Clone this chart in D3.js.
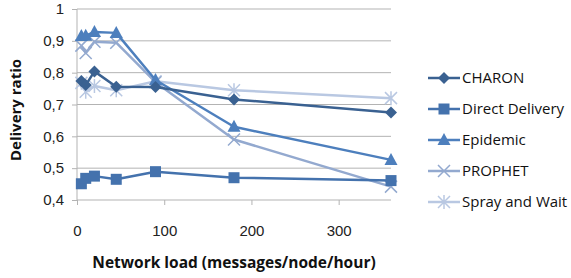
<!DOCTYPE html>
<html>
<head>
<meta charset="utf-8">
<script src="https://cdn.jsdelivr.net/npm/d3@7"></script>
<style>
  body { margin: 0; background: #fff; }
  svg { font-family: "Open Sans", "Liberation Sans", sans-serif; }
</style>
</head>
<body>
<svg width="571" height="278"></svg>
<script>
// network load (messages/node/hour)
const loads = [5, 10, 20, 45, 90, 180, 360];

const charon = [0.774, 0.761, 0.804, 0.756, 0.755, 0.716, 0.675];
const directDelivery = [0.451, 0.468, 0.475, 0.465, 0.489, 0.470, 0.461];
const epidemic = [0.915, 0.916, 0.928, 0.925, 0.777, 0.630, 0.526];
const prophet = [0.885, 0.862, 0.897, 0.894, 0.770, 0.590, 0.442];
const sprayWait = [0.768, 0.740, 0.758, 0.745, 0.773, 0.745, 0.720];

const seriesNames = ["CHARON", "Direct Delivery", "Epidemic", "PROPHET", "Spray and Wait"];
const yTicks = [0.4, 0.5, 0.6, 0.7, 0.8, 0.9, 1];
const xTicks = [0, 100, 200, 300];

const series = [
  { name: seriesNames[0], values: charon, color: "#3a6191", marker: "diamond" },
  { name: seriesNames[1], values: directDelivery, color: "#4472ad", marker: "square" },
  { name: seriesNames[2], values: epidemic, color: "#4d7fbd", marker: "triangle" },
  { name: seriesNames[3], values: prophet, color: "#93a9cf", marker: "x" },
  { name: seriesNames[4], values: sprayWait, color: "#b9c8e2", marker: "star" }
];

const svg = d3.select("svg");
const x = d3.scaleLinear().domain([0, 360]).range([77, 391]);
const y = d3.scaleLinear().domain([0.4, 1]).range([200, 9]);

// gridlines
svg.append("g").selectAll("line")
  .data(yTicks.slice(1))
  .enter().append("line")
  .attr("x1", 77).attr("x2", 391)
  .attr("y1", d => y(d)).attr("y2", d => y(d))
  .attr("stroke", "#b3b3b3").attr("stroke-width", 1);

// y axis
const yAxis = svg.append("g")
  .attr("transform", "translate(77,0)")
  .call(d3.axisLeft(y).tickValues(yTicks).tickSize(5).tickPadding(8)
    .tickFormat(d => d3.format(".1f")(d).replace(".", ",").replace(/^1,0$/, "1")));
yAxis.select(".domain").attr("stroke", "#b3b3b3").attr("d", "M0,9V200");
yAxis.selectAll(".tick line").attr("stroke", "#b3b3b3");
yAxis.selectAll("text").attr("font-size", 15).attr("fill", "#222");

// x axis
const xAxis = svg.append("g")
  .attr("transform", "translate(0,200)")
  .call(d3.axisBottom(x).tickValues(xTicks).tickSize(5).tickPadding(20));
xAxis.select(".domain").attr("stroke", "#b3b3b3").attr("d", "M77,0H391");
xAxis.selectAll(".tick line").attr("stroke", "#b3b3b3");
xAxis.selectAll("text").attr("font-size", 15).attr("fill", "#222");

// axis titles
svg.append("text")
  .attr("transform", "translate(21,110) rotate(-90)")
  .attr("text-anchor", "middle")
  .attr("font-size", 15).attr("font-weight", "bold").attr("fill", "#111")
  .text("Delivery ratio");
svg.append("text")
  .attr("x", 234).attr("y", 268)
  .attr("text-anchor", "middle")
  .attr("font-size", 15.5).attr("font-weight", "bold").attr("fill", "#111")
  .text("Network load (messages/node/hour)");

function drawMarker(g, type, color) {
  if (type === "diamond") {
    g.append("path").attr("d", "M0,-6L6,0L0,6L-6,0Z").attr("fill", color);
  } else if (type === "square") {
    g.append("rect").attr("x", -5.5).attr("y", -5.5).attr("width", 11).attr("height", 11).attr("fill", color);
  } else if (type === "triangle") {
    g.append("path").attr("d", "M0,-7L6.5,5L-6.5,5Z").attr("fill", color);
  } else if (type === "x") {
    g.append("path").attr("d", "M-6,-6L6,6M-6,6L6,-6").attr("stroke", color).attr("stroke-width", 1.5);
  } else if (type === "star") {
    g.append("path").attr("d", "M-6,-6L6,6M-6,6L6,-6M0,-7V7").attr("stroke", color).attr("stroke-width", 1.5);
  }
}

const line = d3.line().x((d, i) => x(loads[i])).y(d => y(d));

// draw from lightest to darkest so dark series sit on top
series.slice().reverse().forEach(s => {
  svg.append("path")
    .datum(s.values)
    .attr("fill", "none")
    .attr("stroke", s.color)
    .attr("stroke-width", 2.5)
    .attr("stroke-linejoin", "round")
    .attr("d", line);
  s.values.forEach((v, i) => {
    const g = svg.append("g").attr("transform", `translate(${x(loads[i])},${y(v)})`);
    drawMarker(g, s.marker, s.color);
  });
});

// legend
const legend = svg.append("g");
series.forEach((s, i) => {
  const ly = 78 + i * 31;
  const g = legend.append("g").attr("transform", `translate(0,${ly})`);
  g.append("line").attr("x1", 428).attr("x2", 460).attr("y1", 0).attr("y2", 0)
    .attr("stroke", s.color).attr("stroke-width", 2.5);
  const m = g.append("g").attr("transform", "translate(444,0)");
  drawMarker(m, s.marker, s.color);
  g.append("text").attr("x", 462).attr("y", 5)
    .attr("font-size", 15).attr("fill", "#111")
    .text(s.name);
});
</script>
</body>
</html>
